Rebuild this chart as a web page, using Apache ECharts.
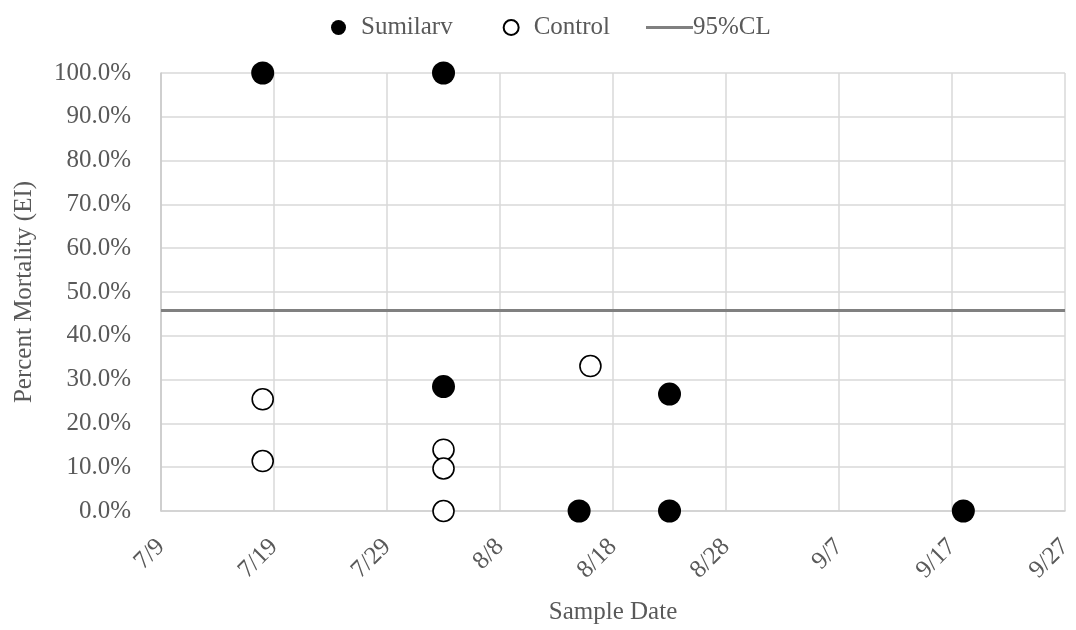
<!doctype html>
<html lang="en">
 <head>
  <meta charset="UTF-8">
  <style type="text/css">
  html,body{margin:0;padding:0;background:#fff;}
  #chart{width:1076px;height:630px;}
  </style>
  <script src="https://cdn.jsdelivr.net/npm/echarts@6/dist/echarts.min.js"></script>
  <title>Percent Mortality</title>
 </head>
 <body>
    <div id="chart"></div>
    <script type="text/javascript">
    // sample dates (M/D) and percent mortality
    var sumDates = ['7/18', '8/3', '8/3', '8/15', '8/23', '8/23', '9/18'];
    var sumVals = [100, 100, 28.4, 0, 26.7, 0, 0];
    var ctlDates = ['7/18', '7/18', '8/3', '8/3', '8/3', '8/16'];
    var ctlVals = [25.5, 11.4, 14.0, 9.7, 0, 33.1];
    var clDates = ['7/9', '9/27'];
    var clVals = [45.75, 45.75];
    var yTicks = [0, 10, 20, 30, 40, 50, 60, 70, 80, 90, 100];

    var YEAR = 2019;
    var START = Date.UTC(YEAR, 6, 9);
    var DAY = 86400000;

    // days since 7/9
    function dayOf(s){
        var p = s.split('/');
        return (Date.UTC(YEAR, +p[0] - 1, +p[1]) - START) / DAY;
    }
    function pairs(ds, vs){
        var out = [];
        for (var i = 0; i < ds.length; i++) out.push([dayOf(ds[i]), vs[i]]);
        return out;
    }
    function labelOf(v){
        var d = new Date(START + v * DAY);
        return (d.getUTCMonth() + 1) + '/' + d.getUTCDate();
    }

    var font = 'Liberation Serif';
    var txt = '#595959';
    var fs = 25;

    var myChart = echarts.init(document.getElementById('chart'));
    var option = {
        animation: false,
        textStyle: {fontFamily: font},
        grid: {left: 161, right: 5, top: 73, bottom: 117},
        legend: [{
            data: ['Sumilarv', 'Control'],
            left: 326, top: 10,
            itemWidth: 15, itemHeight: 15, itemGap: 50,
            textStyle: {fontFamily: font, fontSize: fs, color: txt, padding: [0, 0, 0, 10]}
        }, {
            data: [{name: '95%CL', icon: 'rect'}],
            left: 641, top: 10,
            itemWidth: 47, itemHeight: 3,
            textStyle: {fontFamily: font, fontSize: fs, color: txt, padding: [0, 0, 0, -5]}
        }],
        xAxis: {
            type: 'value',
            min: 0, max: 80, interval: 10,
            name: 'Sample Date',
            nameLocation: 'middle',
            nameGap: 89,
            nameTextStyle: {fontFamily: font, fontSize: fs, color: txt},
            axisLine: {show: true, lineStyle: {color: '#d0d0d0', width: 1.5}},
            axisTick: {show: false},
            axisLabel: {
                rotate: 45, margin: 32,
                fontFamily: font, fontSize: fs, color: txt,
                formatter: labelOf
            },
            splitLine: {show: true, lineStyle: {color: '#d9d9d9', width: 1.5}}
        },
        yAxis: {
            type: 'value',
            min: yTicks[0], max: yTicks[yTicks.length - 1], interval: 10,
            name: 'Percent Mortality (EI)',
            nameLocation: 'middle',
            nameGap: 124,
            nameTextStyle: {fontFamily: font, fontSize: fs, color: txt},
            axisLine: {show: true, lineStyle: {color: '#c8c8c8', width: 1.5}},
            axisTick: {show: false},
            axisLabel: {
                margin: 30,
                fontFamily: font, fontSize: fs, color: txt,
                formatter: function (v) { return v.toFixed(1) + '%'; }
            },
            splitLine: {show: true, lineStyle: {color: '#d9d9d9', width: 1.5}}
        },
        series: [
            {
                name: '95%CL',
                type: 'line',
                symbol: 'none',
                data: pairs(clDates, clVals),
                lineStyle: {color: '#808080', width: 3},
                itemStyle: {color: '#808080'},
                z: 1
            },
            {
                name: 'Sumilarv',
                type: 'scatter',
                symbol: 'circle',
                symbolSize: 23,
                data: pairs(sumDates, sumVals),
                itemStyle: {color: '#000', opacity: 1},
                z: 3
            },
            {
                name: 'Control',
                type: 'scatter',
                symbol: 'circle',
                symbolSize: 21,
                data: pairs(ctlDates, ctlVals),
                itemStyle: {color: '#fff', borderColor: '#000', borderWidth: 1.6, opacity: 1},
                z: 3
            }
        ]
    };
    myChart.setOption(option);

    window.onresize = function () {
        myChart.resize();
    };
    </script>
 </body>
</html>
